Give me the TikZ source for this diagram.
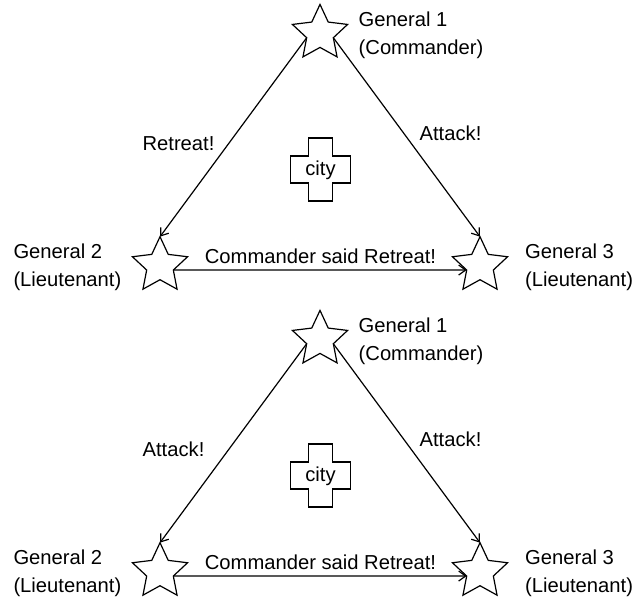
\documentclass[tikz,border=0pt]{standalone}
\usepackage{fontspec}
\setmainfont{Liberation Sans}
\usetikzlibrary{shapes.geometric,arrows.meta}
\begin{document}
\begin{tikzpicture}[x=1pt,y=-1pt,
  general/.style={star,star points=5,star point ratio=2.07,minimum size=58pt,inner sep=0pt,outer sep=0pt,draw,line width=1.2pt},
  msg/.style={draw,line width=1.2pt,-{Straight Barb[length=7pt,width=10pt]}},
  lbl/.style={font=\fontsize{20.2}{28.4}\selectfont,inner sep=0pt},
  who/.style={lbl,align=left,anchor=west},
  citybox/.style={draw,line width=1.2pt}]
\useasboundingbox (0,0) rectangle (644,599);

% ---------- top panel ----------
\node[general] (a1) at (320,33.4) {};
\node[general] (a2) at (160,265.7) {};
\node[general] (a3) at (480,265.7) {};
\node[who] (a1t) at (358.5,35.5) {General 1\\(Commander)};
\node[who] (a2t) at (13.3,267.5) {General 2\\(Lieutenant)};
\node[who] (a3t) at (525,267.5) {General 3\\(Lieutenant)};
\draw[citybox] (308.5,138) -- (332.5,138) -- (332.5,156) -- (350.5,156) -- (350.5,183) -- (332.5,183) -- (332.5,201) -- (308.5,201) -- (308.5,183) -- (290.5,183) -- (290.5,156) -- (308.5,156) -- cycle;
\node[lbl,anchor=base] (acity) at (320.5,175) {city};
\draw[msg] (a1.198) -- (a2.90);
\draw[msg] (a1.342) -- (a3.90);
\draw[msg] (a2.342) -- (a3.198);
\node[lbl,anchor=base] (a12) at (178.5,150) {Retreat!};
\node[lbl,anchor=base] (a13) at (450.5,140) {Attack!};
\node[lbl,anchor=base] (a23) at (320.5,263) {Commander said Retreat!};

% ---------- bottom panel ----------
\begin{scope}[shift={(0,306)}]
\node[general] (b1) at (320,33.4) {};
\node[general] (b2) at (160,265.7) {};
\node[general] (b3) at (480,265.7) {};
\node[who] (b1t) at (358.5,35.5) {General 1\\(Commander)};
\node[who] (b2t) at (13.3,267.5) {General 2\\(Lieutenant)};
\node[who] (b3t) at (525,267.5) {General 3\\(Lieutenant)};
\draw[citybox] (308.5,138) -- (332.5,138) -- (332.5,156) -- (350.5,156) -- (350.5,183) -- (332.5,183) -- (332.5,201) -- (308.5,201) -- (308.5,183) -- (290.5,183) -- (290.5,156) -- (308.5,156) -- cycle;
\node[lbl,anchor=base] (bcity) at (320.5,175) {city};
\draw[msg] (b1.198) -- (b2.90);
\draw[msg] (b1.342) -- (b3.90);
\draw[msg] (b2.342) -- (b3.198);
\node[lbl,anchor=base] (b12) at (173.5,150) {Attack!};
\node[lbl,anchor=base] (b13) at (450.5,140) {Attack!};
\node[lbl,anchor=base] (b23) at (320.5,263) {Commander said Retreat!};
\end{scope}
\end{tikzpicture}
\end{document}
